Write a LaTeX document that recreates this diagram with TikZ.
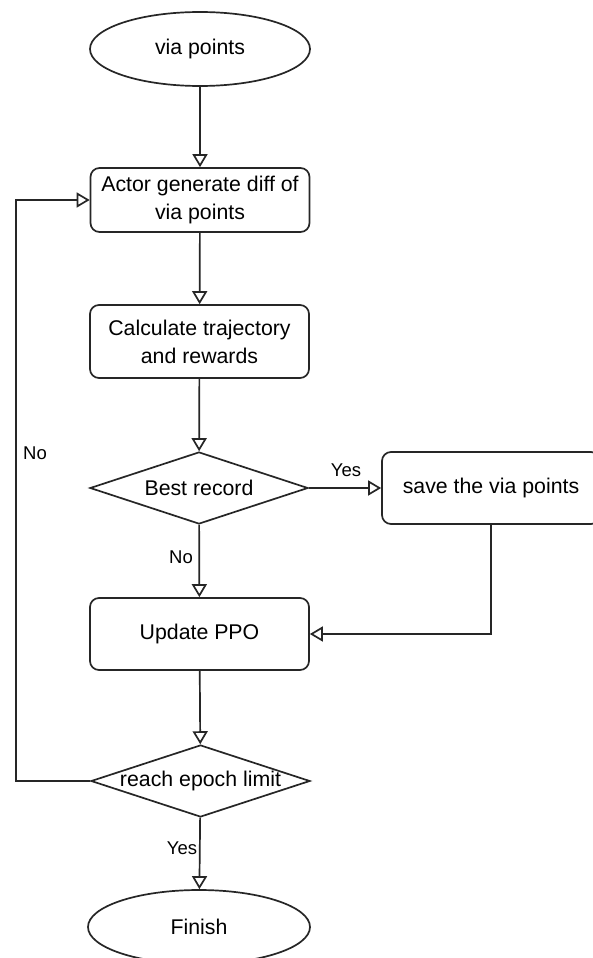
\documentclass[tikz,border=0pt]{standalone}
\usepackage{fontspec}
\setmainfont{Liberation Sans}
\usetikzlibrary{shapes.geometric,arrows.meta}
\begin{document}
\begin{tikzpicture}[x=1pt,y=-1pt,
  base/.style={draw=black!85, line width=1.7pt, fill=white, inner sep=0pt, align=center,
    font=\fontsize{21.3}{28}\selectfont},
  term/.style={base, ellipse, minimum width=220pt, minimum height=74pt},
  proc/.style={base, rectangle, rounded corners=9pt, minimum width=219pt},
  dec/.style={base, diamond, minimum width=218pt, minimum height=72pt},
  conn/.style={draw=black!85, line width=1.7pt, -{Triangle[open, length=13pt, width=15pt, fill=white]}},
  lbl/.style={font=\fontsize{18.5}{22}\selectfont, inner sep=1pt, fill=white}
]
\useasboundingbox (0,0) rectangle (592,958);
\fill[white] (0,0) rectangle (592,958);

\node[term] (start) at (200,49) {via points};
\node[proc, minimum height=64pt] (act) at (200,200) {Actor generate diff of\\via points};
\node[proc, minimum height=73pt] (calc) at (199.5,341.5) {Calculate trajectory\\and rewards};
\node[dec, label={[font=\fontsize{21.3}{28}\selectfont]center:Best record}] (best) at (199,488) {};
\node[proc, minimum width=218pt, minimum height=72pt] (save) at (491,488) {save the via points};
\node[proc, minimum height=72pt] (ppo) at (199.5,634) {Update PPO};
\node[dec, minimum width=219pt, label={[font=\fontsize{21.3}{28}\selectfont]center:reach epoch limit}] (epoch) at (200.5,781) {};
\node[term, minimum width=222pt] (fin) at (199,927) {Finish};

\coordinate (lp) at (16,781);

\draw[conn] (start) -- (act);
\draw[conn] (act) -- (calc);
\draw[conn] (calc) -- (best);
\draw[conn] (best) -- (save);
\draw[conn] (best) -- (ppo);
\draw[conn] (save.south) |- (ppo.east);
\draw[conn] (ppo) -- (epoch);
\draw[conn] (epoch) -- (fin);
\draw[conn] (epoch.west) -- (lp) |- (act.west);

\node[lbl] (yes1) at (346,470) {Yes};
\node[lbl] (no1) at (181,557) {No};
\node[lbl] (no2) at (35,453) {No};
\node[lbl] (yes2) at (182,848) {Yes};
\end{tikzpicture}
\end{document}
